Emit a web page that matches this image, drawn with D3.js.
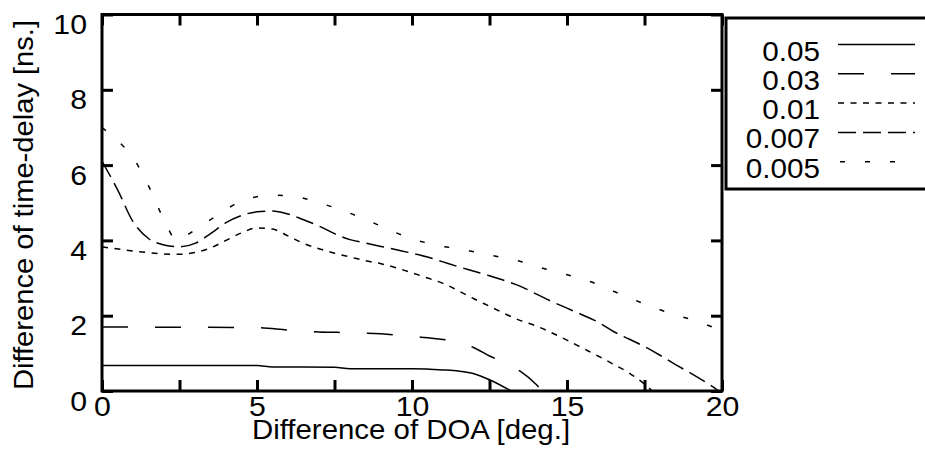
<!DOCTYPE html>
<html>
<head>
<meta charset="utf-8">
<script src="https://cdn.jsdelivr.net/npm/d3@7"></script>
<style>
  body { margin: 0; background: #fff; }
  text { font-family: "Liberation Sans", Arial, sans-serif; fill: #000; }
</style>
</head>
<body>
<script>
// series data: [DOA difference (deg), time-delay difference (ns)]
const seriesNames = ["0.05", "0.03", "0.01", "0.007", "0.005"];

const s005 = [[0,0.68],[5,0.68],[5.5,0.64],[7.5,0.63],[8,0.59],[10,0.59],[11,0.56],[11.5,0.53],[12,0.46],[12.5,0.3],[13.2,0]];
const s003 = [[0,1.7],[5,1.68],[6,1.62],[7,1.57],[8,1.55],[9,1.52],[10,1.45],[11,1.37],[11.5,1.3],[12,1.15],[12.5,0.93],[13,0.75],[13.5,0.52],[14,0.18],[14.2,0]];
const s001 = [[0,3.83],[1,3.72],[2,3.64],[2.5,3.63],[3,3.68],[3.5,3.8],[4,4.0],[4.5,4.2],[5,4.33],[5.5,4.3],[6,4.12],[6.5,3.92],[7,3.78],[7.5,3.66],[8,3.56],[8.5,3.46],[9,3.38],[9.5,3.27],[10,3.14],[10.5,3.0],[11,2.86],[11.5,2.66],[12,2.45],[12.5,2.25],[13,2.05],[13.5,1.87],[14,1.73],[14.5,1.55],[15,1.35],[15.5,1.14],[16,0.93],[16.5,0.71],[17,0.48],[17.5,0.18],[17.75,0]];
const s0007 = [[0,6.1],[0.5,5.35],[1,4.5],[1.5,4.05],[2,3.88],[2.5,3.83],[3,3.92],[3.5,4.18],[4,4.47],[4.5,4.66],[5,4.76],[5.5,4.78],[6,4.7],[6.5,4.55],[7,4.38],[7.5,4.18],[8,4.02],[8.5,3.93],[9,3.84],[9.5,3.75],[10,3.66],[10.5,3.56],[11,3.43],[11.5,3.3],[12,3.18],[12.5,3.06],[13,2.93],[13.5,2.78],[14,2.58],[14.5,2.38],[15,2.2],[15.5,2.02],[16,1.83],[16.5,1.58],[17,1.38],[17.5,1.18],[18,0.95],[18.5,0.7],[19,0.47],[19.5,0.22],[19.9,0]];
const s0005 = [[0,7.0],[0.5,6.65],[1,6.2],[1.5,5.45],[2,4.55],[2.4,4.02],[3,4.28],[3.5,4.55],[4,4.82],[4.5,5.05],[5,5.16],[5.5,5.2],[6,5.18],[6.5,5.12],[7,5.0],[7.5,4.87],[8,4.72],[8.5,4.55],[9,4.38],[9.5,4.2],[10,4.04],[10.5,3.93],[11,3.84],[11.5,3.78],[12,3.7],[12.5,3.61],[13,3.53],[13.5,3.44],[14,3.31],[14.5,3.2],[15,3.09],[15.5,2.97],[16,2.83],[16.5,2.65],[17,2.48],[17.5,2.31],[18,2.16],[18.5,2.02],[19,1.9],[19.5,1.76],[20,1.6]];

const xTicks = [0, 2.5, 5, 7.5, 10, 12.5, 15, 17.5, 20];
const yTicks = [0, 2, 4, 6, 8, 10];

const allSeries = [s005, s003, s001, s0007, s0005];
const dashes = [null, "26,27", "6,6.5", "18,7", "5,20"];

const W = 925, H = 449;
const m = { left: 102, top: 14.5, right: 722, bottom: 391 };

const svg = d3.select("body").append("svg")
    .attr("width", W)
    .attr("height", H);

const x = d3.scaleLinear().domain([0, 20]).range([m.left, m.right]);
const y = d3.scaleLinear().domain([0, 10]).range([m.bottom, m.top]);

// stretch text a bit, the original glyphs are wider than Liberation Sans
function stretch(sel, k) {
    sel.each(function() {
        const len = this.getComputedTextLength();
        d3.select(this).attr("textLength", len * k).attr("lengthAdjust", "spacingAndGlyphs");
    });
}

svg.append("clipPath").attr("id", "clip")
  .append("rect")
    .attr("x", m.left).attr("y", m.top)
    .attr("width", m.right - m.left).attr("height", m.bottom - m.top);

// curves
const line = d3.line()
    .x(d => x(d[0]))
    .y(d => y(d[1]))
    .curve(d3.curveMonotoneX);

svg.append("g").attr("clip-path", "url(#clip)")
  .selectAll("path")
  .data(allSeries)
  .join("path")
    .attr("d", line)
    .attr("fill", "none")
    .attr("stroke", "#000")
    .attr("stroke-width", 1.5)
    .attr("stroke-dasharray", (d, i) => dashes[i]);

// axes, ticks pointing inward
const fmtX = d => (d % 5 === 0 ? d : "");
const gx = svg.append("g")
    .attr("transform", `translate(0,${m.bottom})`)
    .call(d3.axisBottom(x).tickValues(xTicks).tickFormat(fmtX).tickSize(-11).tickSizeOuter(0).tickPadding(6));
const gxTop = svg.append("g")
    .attr("transform", `translate(0,${m.top})`)
    .call(d3.axisTop(x).tickValues(xTicks).tickFormat("").tickSize(-11).tickSizeOuter(0));
const gy = svg.append("g")
    .attr("transform", `translate(${m.left},0)`)
    .call(d3.axisLeft(y).tickValues(yTicks).tickSize(-11).tickSizeOuter(0).tickPadding(15));
const gyRight = svg.append("g")
    .attr("transform", `translate(${m.right},0)`)
    .call(d3.axisRight(y).tickValues(yTicks).tickFormat("").tickSize(-11).tickSizeOuter(0));

[gx, gxTop, gy, gyRight].forEach(g => {
    g.select(".domain").remove();
    g.selectAll(".tick line").attr("stroke", "#000").attr("stroke-width", 3);
});
gx.selectAll("text").attr("font-size", 27).attr("font-family", null).attr("fill", "#000").call(stretch, 1.12);
gy.selectAll("text").attr("font-size", 27).attr("font-family", null).attr("fill", "#000")
    .attr("dy", "19px").call(stretch, 1.12);

// frame
svg.append("rect")
    .attr("x", m.left).attr("y", m.top)
    .attr("width", m.right - m.left).attr("height", m.bottom - m.top)
    .attr("fill", "none")
    .attr("stroke", "#000")
    .attr("stroke-width", 3);

// axis titles
svg.append("text")
    .attr("x", (m.left + m.right) / 2 - 1)
    .attr("y", 439)
    .attr("text-anchor", "middle")
    .attr("font-size", 28)
    .text("Difference of DOA [deg.]")
    .call(stretch, 1.05);

svg.append("text")
    .attr("transform", `translate(33,${205}) rotate(-90)`)
    .attr("text-anchor", "middle")
    .attr("font-size", 28)
    .text("Difference of time-delay [ns.]")
    .call(stretch, 1.04);

// legend box, runs off the right edge
const key = svg.append("g");
key.append("rect")
    .attr("x", 726).attr("y", 18)
    .attr("width", 240).attr("height", 171)
    .attr("fill", "#fff")
    .attr("stroke", "#000")
    .attr("stroke-width", 3);

const item = key.selectAll("g.item")
  .data(seriesNames)
  .join("g")
    .attr("class", "item")
    .attr("transform", (d, i) => `translate(0,${44.5 + i * 29.3})`);

item.append("text")
    .attr("x", 820)
    .attr("y", 16)
    .attr("text-anchor", "end")
    .attr("font-size", 28)
    .text(d => d)
    .call(stretch, 1.06);

item.append("line")
    .attr("x1", 838).attr("x2", 915)
    .attr("y1", 0).attr("y2", 0)
    .attr("stroke", "#000")
    .attr("stroke-width", 1.5)
    .attr("stroke-dasharray", (d, i) => dashes[i])
    .attr("stroke-dashoffset", (d, i) => (i === 4 ? -2 : 0));
</script>
</body>
</html>
